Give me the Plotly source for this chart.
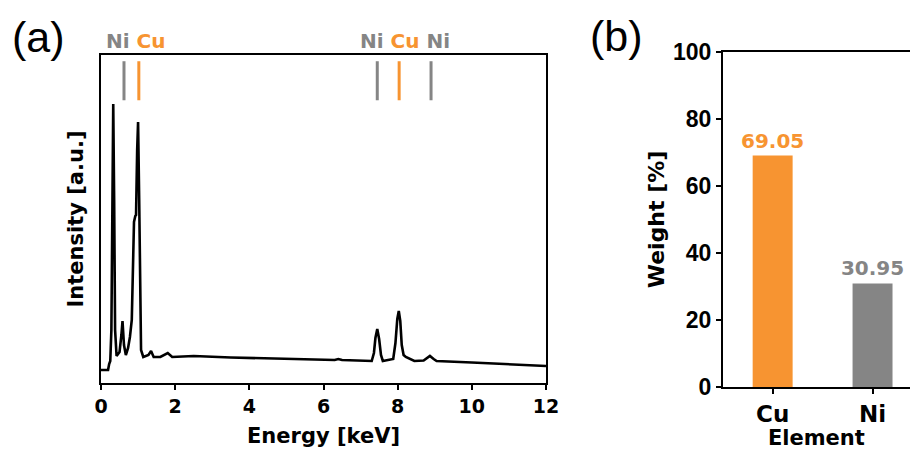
import plotly.graph_objects as go

# ---------------- data ----------------
# EDS spectrum (a): energy [keV] and intensity [a.u.]
energy = [0.0, 0.19, 0.22, 0.25, 0.28, 0.31, 0.33, 0.355, 0.38, 0.42, 0.5, 0.55, 0.58, 0.62,
          0.67, 0.73, 0.78, 0.83, 0.87, 0.89, 0.925, 0.945, 0.975, 1.0, 1.03, 1.05, 1.08,
          1.14, 1.28, 1.35, 1.42, 1.6, 1.8, 1.92, 2.5, 3.5, 5.0, 5.9, 6.3, 6.4, 6.5,
          7.3, 7.36, 7.40, 7.45, 7.50, 7.55, 7.6, 7.88, 7.94, 7.99, 8.03, 8.07, 8.11,
          8.16, 8.22, 8.28, 8.36, 8.45, 8.7, 8.8, 8.87, 8.97, 9.05, 10.0, 11.0, 12.0]
intensity = [13, 13, 19, 22, 53, 203, 279, 183, 53, 27, 31, 48, 62, 38,
             28, 35, 46, 63, 113, 161, 167, 168, 233, 261, 183, 103, 33,
             26, 28, 32, 26, 26, 30, 26, 27, 25.5, 24, 23, 23, 24, 23,
             22, 30, 45, 54, 44, 28, 22, 24, 40, 64, 72, 62, 38,
             28, 26, 25, 23, 22, 22.5, 25.5, 27, 24, 22, 20.5, 18.5, 17]

# characteristic line markers (a)
marker_energy = [0.62, 1.02, 7.45, 8.04, 8.9]
marker_element = ["Ni", "Cu", "Ni", "Cu", "Ni"]
label_groups = [(0.93, ["Ni", "Cu"]), (8.2, ["Ni", "Cu", "Ni"])]

# composition (b)
elements = ["Cu", "Ni"]
weight = [69.05, 30.95]

# ---------------- style ----------------
ORANGE = "#F79431"
GRAY = "#858585"
COL = {"Cu": ORANGE, "Ni": GRAY}
WIDE = "DejaVu Sans, Verdana, sans-serif"
ARIAL = "Liberation Sans, Arial, sans-serif"

fig = go.Figure()

fig.add_trace(go.Scatter(x=energy, y=intensity, mode="lines",
                         line=dict(color="black", width=2.6),
                         xaxis="x", yaxis="y", showlegend=False, hoverinfo="skip"))

fig.add_trace(go.Bar(x=elements, y=weight, width=0.4,
                     marker=dict(color=[COL[e] for e in elements], line=dict(width=0)),
                     text=[f"{w:.2f}" for w in weight], textposition="outside",
                     constraintext="none",
                     textfont=dict(family=WIDE, size=20, weight="bold",
                                   color=[COL[e] for e in elements]),
                     cliponaxis=False,
                     xaxis="x2", yaxis="y2", showlegend=False))

shapes = []
for e, el in zip(marker_energy, marker_element):
    shapes.append(dict(type="line", xref="x", yref="y domain", x0=e, x1=e,
                       y0=0.862, y1=0.981, line=dict(color=COL[el], width=3)))

annotations = []
for xc, els in label_groups:
    txt = " ".join(f"<span style='color:{COL[el]}'>{el}</span>" for el in els)
    annotations.append(dict(text=txt, x=xc, xref="x", y=1 - 41 / 450, yref="paper",
                            yanchor="middle", showarrow=False,
                            font=dict(family=WIDE, size=20, weight="bold")))

annotations.append(dict(text="(a)", x=38 / 910, y=1 - 37 / 450, xref="paper", yref="paper",
                        xanchor="center", yanchor="middle", showarrow=False,
                        font=dict(family=ARIAL, size=43, color="black")))
annotations.append(dict(text="(b)", x=616 / 910, y=1 - 36 / 450, xref="paper", yref="paper",
                        xanchor="center", yanchor="middle", showarrow=False,
                        font=dict(family=ARIAL, size=43, color="black")))

axis_common = dict(showline=True, linecolor="black", linewidth=1.5, showgrid=False,
                   zeroline=False, ticks="outside", ticklen=5, tickwidth=1.5,
                   tickcolor="black", automargin=False)

fig.update_layout(
    width=910, height=450,
    margin=dict(l=0, r=0, t=0, b=0, autoexpand=False),
    paper_bgcolor="white", plot_bgcolor="white",
    font=dict(family=WIDE, color="black"),
    xaxis=dict(**axis_common, domain=[101 / 910, 546 / 910], range=[0, 12], dtick=2,
               mirror=True, anchor="y",
               tickfont=dict(family=WIDE, size=19, weight="bold"),
               title=dict(text="Energy [keV]", standoff=13,
                          font=dict(family=WIDE, size=21, weight="bold"))),
    yaxis=dict(showline=True, linecolor="black", linewidth=1.5, showgrid=False,
               zeroline=False, mirror=True, showticklabels=False, ticks="",
               automargin=False,
               domain=[1 - 383 / 450, 1 - 55 / 450], range=[0, 328], anchor="x",
               title=dict(text="Intensity [a.u.]", standoff=10,
                          font=dict(family=WIDE, size=21, weight="bold"))),
    xaxis2=dict(**axis_common, domain=[722.7 / 910, 1.0], range=[-0.5, 1.375],
                mirror=True, anchor="y2", type="category",
                tickfont=dict(family=WIDE, size=23, weight="bold"),
                title=dict(text="Element", standoff=6,
                           font=dict(family=WIDE, size=21, weight="bold"))),
    yaxis2=dict(**axis_common, domain=[1 - 387.3 / 450, 1 - 51.7 / 450], range=[0, 100],
                dtick=20, anchor="x2",
                tickfont=dict(family=ARIAL, size=23, weight="bold"),
                title=dict(text="Weight [%]", standoff=2,
                           font=dict(family=WIDE, size=22, weight="bold"))),
    shapes=shapes,
    annotations=annotations,
    bargap=0.6,
)

fig.write_html("out.html", config={"displayModeBar": False},
               post_script="document.body.style.margin='0';document.body.style.padding='0';")
